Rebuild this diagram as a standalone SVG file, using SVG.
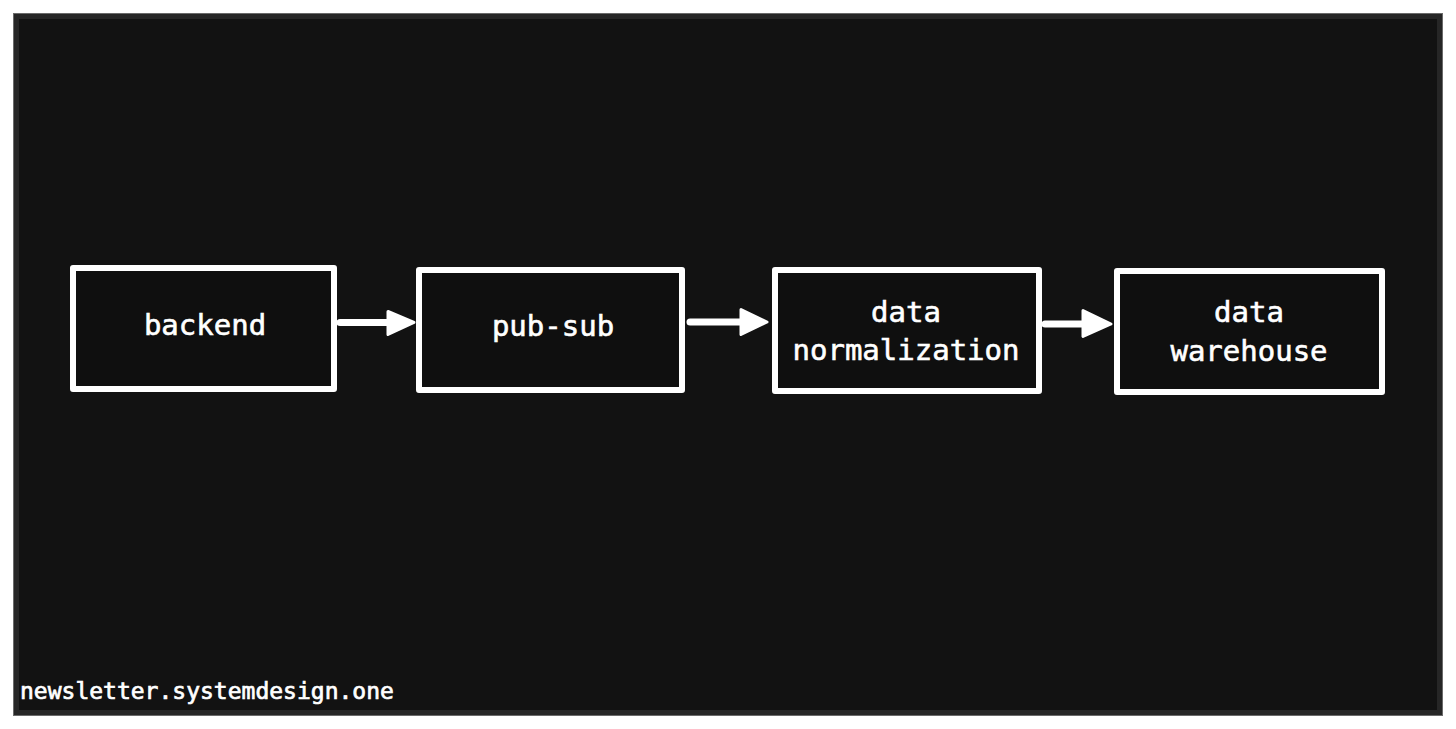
<svg xmlns="http://www.w3.org/2000/svg" width="1456" height="729" viewBox="0 0 1456 729">
  <defs>
    <style>
      .node { fill: #0f0f0f; stroke: #ffffff; stroke-width: 6; stroke-linejoin: round; }
      .label { fill: #ffffff; stroke: #ffffff; stroke-width: 0.6; font-family: "DejaVu Sans Mono", "Liberation Mono", monospace; font-size: 29px; text-anchor: middle; }
      .conn { stroke: #ffffff; stroke-width: 7; stroke-linecap: round; fill: none; }
      .head { fill: #ffffff; stroke: #ffffff; stroke-width: 3; stroke-linejoin: round; }
      .footer { fill: #ffffff; stroke: #ffffff; stroke-width: 0.7; font-family: "DejaVu Sans Mono", "Liberation Mono", monospace; font-size: 23px; }
    </style>
  </defs>
  <rect x="0" y="0" width="1456" height="729" fill="#ffffff"/>
  <rect x="13.5" y="13.5" width="1429" height="702" fill="#262626" stroke="#6a6a6a" stroke-width="1"/>
  <rect x="19" y="19" width="1418" height="691" fill="#121212"/>

  <g id="connectors">
    <line class="conn" x1="340" y1="322.5" x2="392" y2="322.5"/>
    <polygon class="head" points="388,311.5 414,322.5 388,334.5"/>
    <line class="conn" x1="690" y1="322" x2="745" y2="322"/>
    <polygon class="head" points="741,309.5 767,322 741,334.5"/>
    <line class="conn" x1="1045" y1="324" x2="1087" y2="324"/>
    <polygon class="head" points="1083,310.5 1111,324 1083,336.5"/>
  </g>

  <g id="node-backend">
    <rect class="node" x="73" y="268" width="261" height="121"/>
    <text class="label" x="205" y="335">backend</text>
  </g>
  <g id="node-pubsub">
    <rect class="node" x="419" y="270" width="263" height="120"/>
    <text class="label" x="553" y="336">pub-sub</text>
  </g>
  <g id="node-normalization">
    <rect class="node" x="775" y="270" width="264" height="121"/>
    <text class="label" x="906" y="322">data</text>
    <text class="label" x="906" y="360">normalization</text>
  </g>
  <g id="node-warehouse">
    <rect class="node" x="1117" y="271" width="265" height="121"/>
    <text class="label" x="1249" y="322">data</text>
    <text class="label" x="1249" y="361">warehouse</text>
  </g>

  <text class="footer" x="20" y="699">newsletter.systemdesign.one</text>
</svg>
